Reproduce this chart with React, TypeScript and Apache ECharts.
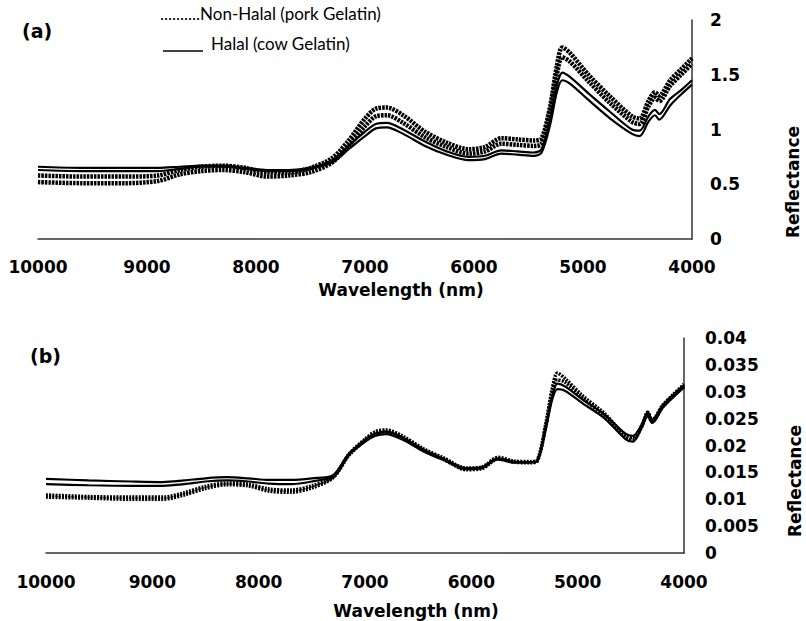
import React, { useEffect, useRef } from "react";
import * as echarts from "echarts";

const wavelengths = [10000, 9600, 9200, 8900, 8700, 8500, 8300, 8100, 7900, 7700, 7500, 7300, 7150, 7000, 6900, 6800, 6650, 6450, 6250, 6050, 5900, 5750, 5600, 5450, 5380, 5300, 5240, 5190, 5120, 4950, 4750, 4550, 4480, 4400, 4340, 4300, 4200, 4100, 4000];

// Panel (a)
const aPork1 = [0.58, 0.57, 0.57, 0.58, 0.63, 0.66, 0.67, 0.65, 0.61, 0.61, 0.65, 0.74, 0.9, 1.1, 1.19, 1.2, 1.13, 0.98, 0.88, 0.82, 0.84, 0.92, 0.91, 0.9, 0.92, 1.22, 1.58, 1.75, 1.7, 1.5, 1.3, 1.12, 1.1, 1.26, 1.34, 1.31, 1.45, 1.55, 1.65];
const aPork2 = [0.52, 0.51, 0.51, 0.53, 0.59, 0.62, 0.63, 0.61, 0.57, 0.58, 0.61, 0.7, 0.85, 1.03, 1.12, 1.13, 1.06, 0.93, 0.84, 0.78, 0.8, 0.87, 0.86, 0.85, 0.87, 1.17, 1.5, 1.66, 1.62, 1.44, 1.24, 1.07, 1.05, 1.21, 1.29, 1.26, 1.4, 1.5, 1.6];
const aCow1 = [0.66, 0.65, 0.65, 0.65, 0.66, 0.67, 0.67, 0.65, 0.63, 0.63, 0.65, 0.72, 0.85, 0.98, 1.05, 1.06, 1.0, 0.89, 0.8, 0.75, 0.76, 0.81, 0.8, 0.79, 0.82, 1.1, 1.4, 1.52, 1.48, 1.33, 1.16, 1.0, 0.99, 1.12, 1.18, 1.14, 1.28, 1.36, 1.45];
const aCow2 = [0.63, 0.62, 0.62, 0.62, 0.64, 0.66, 0.66, 0.64, 0.62, 0.62, 0.64, 0.7, 0.82, 0.94, 1.01, 1.02, 0.96, 0.85, 0.77, 0.72, 0.73, 0.78, 0.77, 0.76, 0.79, 1.05, 1.34, 1.45, 1.42, 1.27, 1.1, 0.96, 0.94, 1.07, 1.13, 1.09, 1.22, 1.32, 1.41];

// Panel (b)
const bCow1 = [0.0138, 0.0135, 0.0133, 0.0132, 0.0135, 0.0139, 0.0141, 0.0139, 0.0136, 0.0136, 0.0139, 0.0145, 0.0185, 0.021, 0.0222, 0.0226, 0.0215, 0.0192, 0.0174, 0.0158, 0.016, 0.0176, 0.017, 0.0169, 0.0172, 0.0235, 0.029, 0.0315, 0.031, 0.0285, 0.0258, 0.0222, 0.0218, 0.0238, 0.0262, 0.0248, 0.0275, 0.0295, 0.0312];
const bCow2 = [0.0128, 0.0126, 0.0125, 0.0125, 0.0128, 0.0133, 0.0135, 0.0133, 0.0129, 0.0128, 0.0133, 0.0143, 0.0183, 0.0207, 0.0218, 0.0221, 0.0211, 0.0189, 0.0172, 0.0156, 0.0158, 0.0174, 0.0168, 0.0168, 0.0171, 0.023, 0.0285, 0.0305, 0.0302, 0.0278, 0.0251, 0.0212, 0.0207, 0.0232, 0.0255, 0.0242, 0.027, 0.029, 0.0308];
const bPork1 = [0.0108, 0.0105, 0.0104, 0.0104, 0.0112, 0.0124, 0.013, 0.0128, 0.0119, 0.0117, 0.0125, 0.0142, 0.0184, 0.0212, 0.0226, 0.0229, 0.0218, 0.0194, 0.0176, 0.0158, 0.016, 0.0178, 0.0171, 0.017, 0.0173, 0.024, 0.0305, 0.0335, 0.0325, 0.0292, 0.026, 0.0218, 0.0215, 0.0236, 0.0262, 0.0247, 0.0275, 0.0295, 0.0314];
const bPork2 = [0.0104, 0.0102, 0.01, 0.01, 0.0108, 0.012, 0.0127, 0.0125, 0.0115, 0.0113, 0.0121, 0.014, 0.0182, 0.0209, 0.0222, 0.0225, 0.0214, 0.0191, 0.0173, 0.0155, 0.0157, 0.0175, 0.0169, 0.0168, 0.0171, 0.0236, 0.0298, 0.0322, 0.0318, 0.0287, 0.0256, 0.0215, 0.0211, 0.0234, 0.0258, 0.0244, 0.0272, 0.0292, 0.031];

const legendPork = "..........Non-Halal (pork Gelatin)";
const legendCow = "Halal (cow Gelatin)";
const xTitle = "Wavelength (nm)";
const yTitle = "Reflectance";

const BOLD = "'DejaVu Sans', sans-serif";

function pairs(vals: number[]) {
  return wavelengths.map((w, i) => [w, vals[i]]);
}

function porkSeries(name: string, vals: number[], idx: number, width: number, dash: number[]) {
  return {
    name,
    type: "line",
    xAxisIndex: idx,
    yAxisIndex: idx,
    data: pairs(vals),
    showSymbol: false,
    smooth: 0.3,
    lineStyle: { color: "#000", width, type: dash },
    z: 3,
  };
}

function cowSeries(name: string, vals: number[], idx: number) {
  return {
    name,
    type: "line",
    xAxisIndex: idx,
    yAxisIndex: idx,
    data: pairs(vals),
    showSymbol: false,
    smooth: 0.3,
    lineStyle: { color: "#000", width: 2.2, type: "solid" },
    z: 2,
  };
}

const axisLabelX = {
  color: "#000",
  fontFamily: BOLD,
  fontWeight: "bold",
  fontSize: 17,
  margin: 19,
  formatter: (v: number) => String(v),
};

export default function App() {
  const ref = useRef<HTMLDivElement>(null);
  useEffect(() => {
    if (!ref.current) return;
    const chart = echarts.init(ref.current, null, { renderer: "svg" });
    const xAxisBase = {
      type: "value",
      min: 4000,
      max: 10000,
      interval: 1000,
      inverse: true,
      axisLine: { show: true, lineStyle: { color: "#333", width: 1.5 } },
      axisTick: { show: false },
      splitLine: { show: false },
      axisLabel: axisLabelX,
    };
    const yAxisBase = {
      type: "value",
      position: "right",
      axisLine: { show: true, lineStyle: { color: "#333", width: 1.5 } },
      axisTick: { show: false },
      splitLine: { show: false },
    };
    chart.setOption({
      animation: false,
      backgroundColor: "#fff",
      grid: [
        { left: 38, width: 654, top: 20, height: 219 },
        { left: 46, width: 638, top: 338, height: 215 },
      ],
      xAxis: [
        { ...xAxisBase, gridIndex: 0 },
        { ...xAxisBase, gridIndex: 1, axisLabel: { ...axisLabelX, margin: 20 } },
      ],
      yAxis: [
        {
          ...yAxisBase,
          gridIndex: 0,
          min: 0,
          max: 2,
          interval: 0.5,
          axisLabel: { color: "#000", fontFamily: BOLD, fontWeight: "bold", fontSize: 17, align: "left", margin: 18 },
        },
        {
          ...yAxisBase,
          gridIndex: 1,
          min: 0,
          max: 0.04,
          interval: 0.005,
          axisLabel: { color: "#000", fontFamily: BOLD, fontWeight: "bold", fontSize: 17, align: "left", margin: 21 },
        },
      ],
      series: [
        cowSeries("Halal (cow) a1", aCow1, 0),
        cowSeries("Halal (cow) a2", aCow2, 0),
        porkSeries("Non-Halal (pork) a1", aPork1, 0, 4.5, [2.5, 1]),
        porkSeries("Non-Halal (pork) a2", aPork2, 0, 4.5, [2.5, 1]),
        cowSeries("Halal (cow) b1", bCow1, 1),
        cowSeries("Halal (cow) b2", bCow2, 1),
        porkSeries("Non-Halal (pork) b1", bPork1, 1, 3.5, [2, 1.2]),
        porkSeries("Non-Halal (pork) b2", bPork2, 1, 3.5, [2, 1.2]),
      ],
      graphic: [
        { type: "text", left: 22, top: 21, style: { text: "(a)", fontFamily: BOLD, fontWeight: "bold", fontSize: 19, fill: "#000" } },
        { type: "text", left: 30, top: 346, style: { text: "(b)", fontFamily: BOLD, fontWeight: "bold", fontSize: 19, fill: "#000" } },
        { type: "text", left: 160, top: 5, style: { text: legendPork, fontFamily: "Lato", fontSize: 17, fill: "#000" } },
        { type: "line", shape: { x1: 163, y1: 51, x2: 203, y2: 51 }, style: { stroke: "#000", lineWidth: 1.5 } },
        { type: "text", left: 211, top: 35, style: { text: legendCow, fontFamily: "Lato", fontSize: 17, fill: "#000" } },
        { type: "text", x: 401, y: 290, style: { text: xTitle, fontFamily: BOLD, fontWeight: "bold", fontSize: 17, fill: "#000", align: "center", verticalAlign: "middle" } },
        { type: "text", x: 416, y: 611, style: { text: xTitle, fontFamily: BOLD, fontWeight: "bold", fontSize: 17, fill: "#000", align: "center", verticalAlign: "middle" } },
        { type: "text", x: 793, y: 182, rotation: Math.PI / 2, style: { text: yTitle, fontFamily: BOLD, fontWeight: "bold", fontSize: 17, fill: "#000", align: "center", verticalAlign: "middle" } },
        { type: "text", x: 795, y: 481, rotation: Math.PI / 2, style: { text: yTitle, fontFamily: BOLD, fontWeight: "bold", fontSize: 17, fill: "#000", align: "center", verticalAlign: "middle" } },
      ],
    });
    return () => chart.dispose();
  }, []);
  return <div ref={ref} style={{ position: "fixed", left: 0, top: 0, width: 806, height: 621 }} />;
}
